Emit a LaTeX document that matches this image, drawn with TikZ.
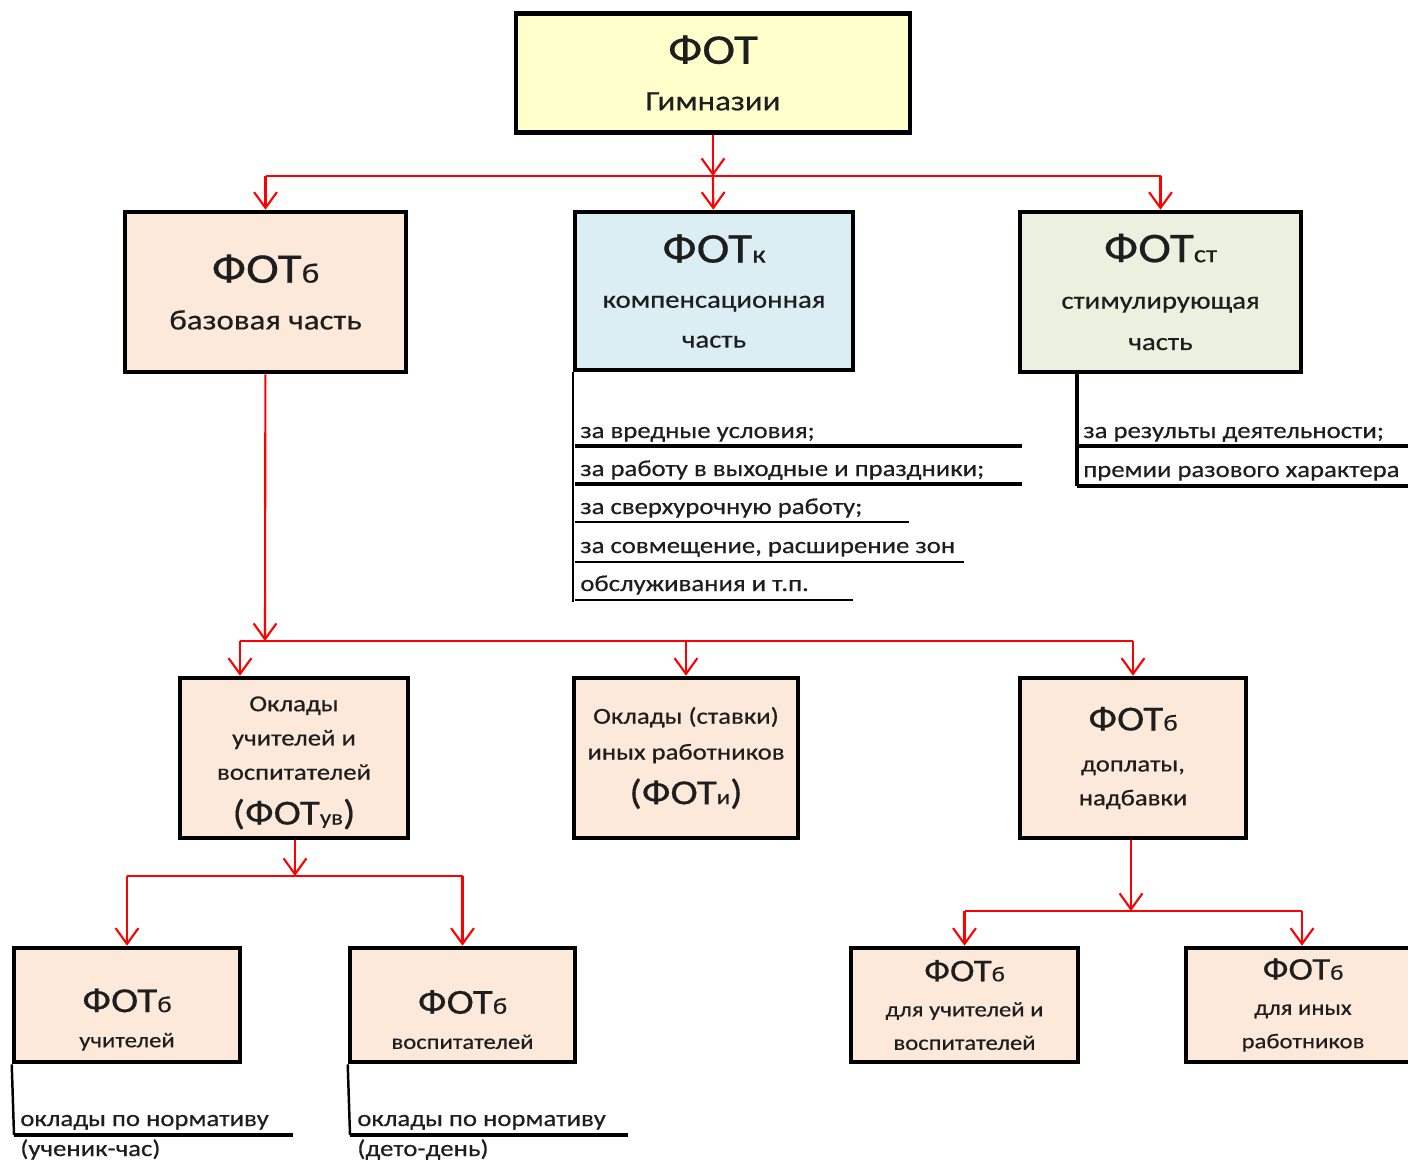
\documentclass[tikz,border=0pt]{standalone}
\usepackage{fontspec}
\setmainfont{Carlito}[FakeStretch=1.17, FakeBold=0.5]
\usetikzlibrary{arrows.meta, positioning, calc}
\usepackage{xcolor}
\definecolor{boxyellow}{RGB}{255,255,204}
\definecolor{boxpeach}{RGB}{252,233,218}
\definecolor{boxblue}{RGB}{219,238,244}
\definecolor{boxgreen}{RGB}{235,241,222}
\definecolor{ink}{RGB}{30,30,30}
\newcommand{\fs}[1]{\fontsize{#1}{#1}\selectfont}

\tikzset{
  box/.style={draw=black, line width=2.6pt, inner sep=0pt, align=center, text=ink},
  link/.style={red, line width=1.2pt, -{Straight Barb[length=9pt,width=13pt,line width=1.2pt]}},
  bus/.style={red, line width=1.2pt},
  item/.style={anchor=base west, inner sep=0pt, font=\fs{13}, text=ink},
  rule/.style={line width=2.2pt},
  thinrule/.style={line width=1.4pt},
}

\begin{document}
\begin{tikzpicture}[x=0.02cm, y=-0.02cm]
  \useasboundingbox (0,0) rectangle (1408,1162);
  % top level
  \node[box, fill=boxyellow, minimum width=7.88cm, minimum height=2.38cm, font=\fontsize{16}{26.5}\selectfont] (fot) at (713,73)
    {\fs{24}ФОТ\\\fs{16}Гимназии};
  % three parts
  \node[box, fill=boxpeach, minimum width=5.62cm, minimum height=3.2cm, font=\fontsize{16}{26.6}\selectfont] (fotb) at (265.5,292)
    {\fs{24}ФОТ{\fs{16}б}\\\fs{16}базовая часть};
  \node[box, fill=boxblue, minimum width=5.56cm, minimum height=3.16cm, font=\fontsize{14}{22.7}\selectfont] (fotk) at (714,291)
    {\fs{24}ФОТ{\fs{14}к}\\[3pt]\fs{14}компенсационная\\\fs{14}часть};
  \node[box, fill=boxgreen, minimum width=5.62cm, minimum height=3.2cm, font=\fontsize{14}{23.5}\selectfont] (fotst) at (1160.5,292)
    {\fs{24}ФОТ{\fs{14}ст}\\[3pt]\fs{14}стимулирующая\\\fs{14}часть};
  \coordinate (bus1) at (713,176);
  \draw[link] (fot) -- (bus1);
  \draw[bus] (bus1 -| fotb) -- (bus1 -| fotst);
  \draw[link] (bus1 -| fotb) -- (fotb);
  \draw[link] (bus1) -- (fotk);
  \draw[link] (bus1 -| fotst) -- (fotst);

  % compensation list
  \node[item] (k1) at (580,438) {за вредные условия;};
  \node[item] (k2) at (580,476) {за работу в выходные и праздники;};
  \node[item] (k3) at (580,514) {за сверхурочную работу;};
  \node[item] (k4) at (580,553) {за совмещение, расширение зон};
  \node[item] (k5) at (580,591) {обслуживания и т.п.};
  \draw[thinrule] (fotk.south west) -- ++(0,230);
  \draw[rule] (575,446) -- (1022,446);
  \draw[rule] (575,484) -- (1022,484);
  \draw[thinrule] (575,522) -- (909,522);
  \draw[thinrule] (575,562) -- (964,562);
  \draw[thinrule] (575,600) -- (853,600);

  % stimulating list
  \node[item] (s1) at (1083,438) {за результы деятельности;};
  \node[item] (s2) at (1083,477) {премии разового характера};
  \draw[rule] (1077,372) -- (1077,486);
  \draw[rule] (1077,446) -- (1420,446);
  \draw[rule] (1077,486) -- (1420,486);

  % second level
  \node[box, fill=boxpeach, minimum width=4.56cm, minimum height=3.2cm, font=\fontsize{13}{19.5}\selectfont] (uv) at (294,758)
    {\rule{0pt}{14pt}\fs{13}Оклады\\\fs{13}учителей и\\\fs{13}воспитателей\\[6pt]\fs{20}(ФОТ{\fs{12}ув})};
  \node[box, fill=boxpeach, minimum width=4.48cm, minimum height=3.2cm, font=\fontsize{13}{20.4}\selectfont] (inyh) at (686,758)
    {\fs{13}Оклады (ставки)\\\fs{13}иных работников\\[5pt]\fs{20}(ФОТ{\fs{12}и})};
  \node[box, fill=boxpeach, minimum width=4.52cm, minimum height=3.2cm, font=\fontsize{13}{19.3}\selectfont] (dop) at (1133,758)
    {\fs{20}ФОТ{\fs{13}б}\\[4pt]\fs{13}доплаты,\\\fs{13}надбавки};
  \coordinate (bus2) at (265,641);
  \coordinate (bus2w) at (240,641);
  \draw[link] (fotb) -- (bus2);
  \draw[bus] (bus2w) -- (bus2 -| dop);
  \draw[link] (bus2w) -- (bus2w |- uv.north);
  \draw[link] (bus2 -| inyh) -- (inyh);
  \draw[link] (bus2 -| dop) -- (dop);

  % teachers and tutors
  \node[box, fill=boxpeach, minimum width=4.52cm, minimum height=2.28cm, font=\fontsize{12}{20}\selectfont] (ut) at (127,1005)
    {\rule{0pt}{30pt}\fs{20}ФОТ{\fs{13}б}\\\fs{12}учителей};
  \node[box, fill=boxpeach, minimum width=4.5cm, minimum height=2.28cm, font=\fontsize{12}{20}\selectfont] (vos) at (462.5,1005)
    {\rule{0pt}{30pt}\fs{20}ФОТ{\fs{13}б}\\\fs{12}воспитателей};
  \coordinate (bus3) at (295,876);
  \draw[link] (uv.south -| bus3) -- (bus3);
  \draw[bus] (bus3 -| ut) -- (bus3 -| vos);
  \draw[link] (bus3 -| ut) -- (ut);
  \draw[link] (bus3 -| vos) -- (vos);
  \node[item] (u1) at (20,1126) {оклады по нормативу};
  \node[item] (u2) at (20,1156) {(ученик-час)};
  \draw[thinrule] (ut.south west) -- (14,1135);
  \draw[rule] (14,1135) -- (293,1135);
  \node[item] (v1) at (357,1126) {оклады по нормативу};
  \node[item] (v2) at (357,1156) {(дето-день)};
  \draw[thinrule] (vos.south west) -- (350,1135);
  \draw[rule] (350,1135) -- (628,1135);

  % extra payments
  \node[box, fill=boxpeach, minimum width=4.54cm, minimum height=2.28cm, font=\fontsize{12}{19}\selectfont] (du) at (964.5,1005)
    {\fs{18}ФОТ{\fs{12}б}\\[1pt]\fs{12}для учителей и\\\fs{12}воспитателей};
  \node[box, fill=boxpeach, minimum width=4.68cm, minimum height=2.28cm, font=\fontsize{12}{19}\selectfont] (di) at (1303,1005)
    {\fs{18}ФОТ{\fs{12}б}\\[1pt]\fs{12}для иных\\\fs{12}работников};
  \coordinate (bus4) at (1131,911);
  \coordinate (bus4e) at (1302,911);
  \draw[link] (dop.south -| bus4) -- (bus4);
  \draw[bus] (bus4 -| du) -- (bus4e);
  \draw[link] (bus4 -| du) -- (du);
  \draw[link] (bus4e) -- (bus4e |- di.north);
\end{tikzpicture}
\end{document}
